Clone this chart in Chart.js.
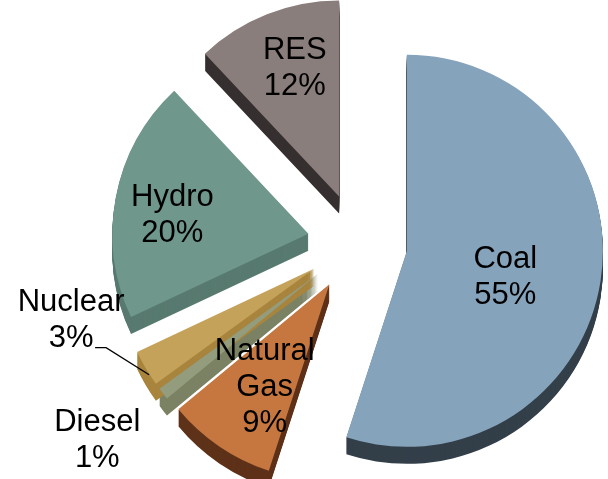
<!DOCTYPE html>
<html>
<head>
<meta charset="utf-8">
<script src="https://cdn.jsdelivr.net/npm/chart.js@4.4.1/dist/chart.umd.min.js"></script>
<style>
  body { margin: 0; background: #fff; }
  #wrap { width: 608px; height: 479px; position: relative; }
</style>
</head>
<body>
<div id="wrap"><canvas id="chart-pie"></canvas></div>
<script>
// data
const sources = ["Coal", "Natural Gas", "Diesel", "Nuclear", "Hydro", "RES"];
const shares = [55, 9, 1, 3, 20, 12];
const labelLines = [["Coal"], ["Natural", "Gas"], ["Diesel"], ["Nuclear"], ["Hydro"], ["RES"]];

// look
const topColors = ["#86a3bc", "#c5773f", "#939c7c", "#c4a259", "#6f978b", "#8a7e7c"];
const sideColors = ["#333f49", "#5e3119", "#7b8264", "#a8843d", "#587a70", "#352f2f"];
const EXPLODE = 50;
const DEPTH = 17;
// where each label sits: fraction of radius from slice tip, and a small turn (deg)
const labelFrac = [0.52, 0.62, 1.41, 1.27, 0.70, 0.69];
const labelTurn = [6.0, -2.0, 0.8, 18.5, -3.2, 2.5];

const explodePlugin = {
  id: "explode",
  afterDatasetUpdate(chart, args) {
    const meta = chart.getDatasetMeta(args.index);
    meta.data.forEach((arc) => {
      const mid = (arc.startAngle + arc.endAngle) / 2;
      arc.x += Math.cos(mid) * EXPLODE;
      arc.y += Math.sin(mid) * EXPLODE;
    });
  },
  beforeDatasetsDraw(chart) {
    const ctx = chart.ctx;
    const meta = chart.getDatasetMeta(0);
    meta.data.forEach((arc, i) => {
      const ghost = Object.create(arc);
      ghost.options = Object.assign({}, arc.options, {
        backgroundColor: sideColors[i],
        borderColor: sideColors[i],
        borderWidth: 0
      });
      for (let d = DEPTH; d >= 1; d--) {
        ctx.save();
        ctx.translate(0, d);
        ghost.draw(ctx);
        ctx.restore();
      }
    });
  },
  afterDatasetsDraw(chart) {
    const ctx = chart.ctx;
    const meta = chart.getDatasetMeta(0);
    ctx.save();
    ctx.fillStyle = "#000";
    ctx.font = "31px 'Liberation Sans', Arial, sans-serif";
    ctx.textAlign = "center";
    ctx.textBaseline = "middle";
    meta.data.forEach((arc, i) => {
      const mid = (arc.startAngle + arc.endAngle) / 2;
      const a = mid + labelTurn[i] * Math.PI / 180;
      const r = arc.outerRadius * labelFrac[i];
      const x = arc.x + Math.cos(a) * r;
      const y = arc.y + Math.sin(a) * r;
      const lines = labelLines[i].concat([shares[i] + "%"]);
      const lh = 36;
      const y0 = y - (lines.length - 1) * lh / 2;
      lines.forEach((t, k) => ctx.fillText(t, x, y0 + k * lh));
      if (sources[i] === "Nuclear") {
        // leader line from label to slice
        const ex = arc.x + Math.cos(mid) * arc.outerRadius * 0.98;
        const ey = arc.y + Math.sin(mid) * arc.outerRadius * 0.98 + DEPTH * 0.5;
        ctx.beginPath();
        ctx.strokeStyle = "#000";
        ctx.lineWidth = 1.3;
        ctx.moveTo(x + 24, y + 27);
        ctx.lineTo(x + 35, y + 27);
        ctx.lineTo(ex, ey);
        ctx.stroke();
      }
    });
    ctx.restore();
  }
};

const ctx = document.getElementById("chart-pie").getContext("2d");
new Chart(ctx, {
  type: "pie",
  data: {
    labels: sources,
    datasets: [{
      data: shares,
      backgroundColor: topColors,
      borderWidth: 0,
      radius: 196,
      clip: false
    }]
  },
  options: {
    responsive: true,
    maintainAspectRatio: false,
    animation: false,
    layout: { padding: { left: 107, right: 0, top: 7, bottom: 0 } },
    plugins: {
      legend: { display: false },
      tooltip: { enabled: false }
    }
  },
  plugins: [explodePlugin]
});
</script>
</body>
</html>
